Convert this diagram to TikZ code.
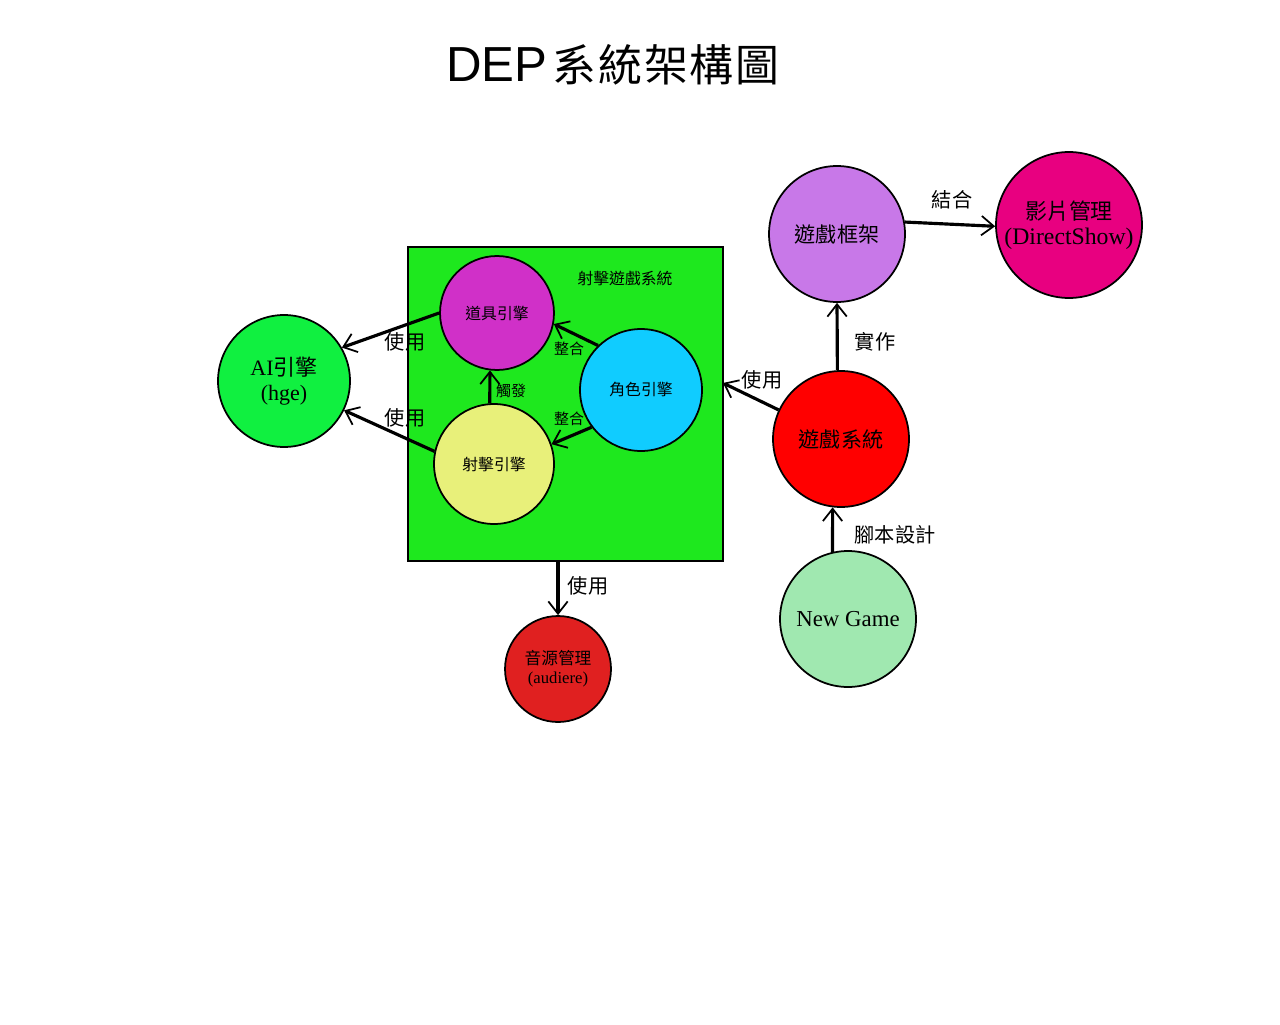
\documentclass[tikz,border=0pt]{standalone}
\usepackage{fontspec}
\setmainfont{Liberation Serif}
\newfontfamily\cjk{Noto Sans CJK TC}
\newfontfamily\headfont{Liberation Sans}
\usetikzlibrary{arrows.meta,shapes}

\definecolor{aigreen}{RGB}{16,240,64}
\definecolor{boxgreen}{RGB}{30,232,30}
\definecolor{itempink}{RGB}{208,48,200}
\definecolor{shotyellow}{RGB}{232,240,122}
\definecolor{rolecyan}{RGB}{16,204,255}
\definecolor{framelilac}{RGB}{200,120,232}
\definecolor{videomag}{RGB}{232,0,128}
\definecolor{sysred}{RGB}{255,0,0}
\definecolor{newmint}{RGB}{160,232,176}
\definecolor{audiored}{RGB}{224,32,32}

\tikzset{
  engine/.style={draw, circle, line width=1pt, inner sep=0pt, align=center},
  arr/.style={line width=1.8pt, -{Straight Barb[length=7pt,width=11pt,line width=1pt]}},
  lbl/.style={font=\cjk\fontsize{11.5}{12}\selectfont, inner sep=0pt},
  small/.style={font=\cjk\fontsize{8.5}{9}\selectfont, inner sep=0pt}
}

\begin{document}
\begin{tikzpicture}[x=0.02cm,y=-0.02cm]
\useasboundingbox (0,0) rectangle (1280,1024);

\node [inner sep=0] (title) at (613,65) {{\headfont\fontsize{28}{30}\selectfont DEP}\hspace{3pt}{\cjk\fontsize{25}{30}\selectfont 系\hspace{1pt}統\hspace{1pt}架\hspace{1pt}構\hspace{1pt}圖}};

% shooting game subsystem
\node [draw, line width=1pt, fill=boxgreen, minimum width=6.3cm, minimum height=6.28cm, inner sep=0] (shoot) at (565.5,404) {};
\node [font=\cjk\fontsize{9}{10}\selectfont] (shootname) at (625,278) {射擊遊戲系統};

\node [engine, fill=itempink, minimum size=2.28cm, font=\cjk\fontsize{9}{10}\selectfont] (item) at (497,313) {道具引擎};
\node [engine, fill=shotyellow, minimum size=2.4cm, font=\cjk\fontsize{9}{10}\selectfont] (shot) at (494,464) {射擊引擎};
\node [engine, fill=rolecyan, minimum size=2.44cm, font=\cjk\fontsize{9}{10}\selectfont] (role) at (641,390) {角色引擎};

\node [engine, fill=aigreen, minimum size=2.64cm, font=\fontsize{12.5}{14}\selectfont] (ai) at (284,381) {AI{\cjk 引擎}\\(hge)};
\node [engine, fill=audiored, minimum size=2.12cm, font=\fontsize{9.5}{11}\selectfont] (audio) at (558,669) {{\cjk 音源管理}\\(audiere)};

\node [engine, fill=framelilac, minimum size=2.72cm, font=\cjk\fontsize{12}{14}\selectfont] (frame) at (837,234) {遊戲框架};
\node [engine, fill=videomag, minimum size=2.92cm, font=\fontsize{13.5}{14}\selectfont] (video) at (1069,225) {{\cjk\fontsize{12.5}{14}\selectfont 影片管理}\\(DirectShow)};
\node [engine, fill=sysred, minimum size=2.72cm, font=\cjk\fontsize{12}{14}\selectfont] (gsys) at (841,439) {遊戲系統};
\node [engine, fill=newmint, minimum size=2.72cm, font=\fontsize{13}{14}\selectfont] (newgame) at (848,619) {New Game};

\coordinate (shootin) at (723,383);

\draw [arr] (item.180) -- (ai.30);
\draw [arr] (shot.168) -- (ai.-26);
\draw [arr] (shot.94) -- (item.263);
\draw [arr] (role.134) -- (item.-11);
\draw [arr] (role.217) -- (shot.19);
\draw [arr] (gsys.155) -- (shootin);
\draw [arr] (gsys.93) -- (frame.south);
\draw [arr] (frame.10) -- (video.181);
\draw [arr] (newgame.103) -- (gsys.263);
\draw [arr] (shoot.south -| audio) -- (audio.north);

\node [lbl] (useitem) at (405,342) {使用};
\node [lbl] (useshot) at (405,418) {使用};
\node [small] (trigger) at (511,391) {觸發};
\node [small] (joinitem) at (569,349) {整合};
\node [small] (joinshot) at (569,419) {整合};
\node [lbl] (usesys) at (762,380) {使用};
\node [lbl] (impl) at (875,342) {實作};
\node [lbl] (combine) at (952,200) {結合};
\node [lbl] (script) at (895,535) {腳本設計};
\node [lbl] (useaudio) at (588,586) {使用};

\end{tikzpicture}
\end{document}
